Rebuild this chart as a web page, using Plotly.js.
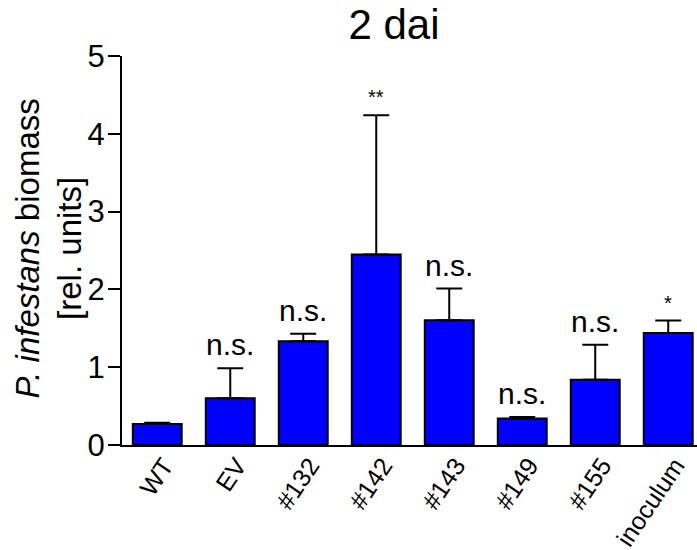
<!DOCTYPE html>
<html>
<head>
<meta charset="utf-8">
<script src="https://cdn.plot.ly/plotly-3.0.1.min.js"></script>
<style>
  html, body { margin: 0; padding: 0; background: #ffffff; }
  #chart { width: 697px; height: 550px; }
</style>
</head>
<body>
<div id="chart"></div>
<script>
// Biomass per line, 2 days after inoculation
const categories = ['WT', 'EV', '#132', '#142', '#143', '#149', '#155', 'inoculum'];
const biomass = [0.27, 0.60, 1.335, 2.45, 1.605, 0.34, 0.84, 1.44];
const errorUp = [0.015, 0.385, 0.095, 1.79, 0.405, 0.02, 0.45, 0.16];
const significance = ['', 'n.s.', 'n.s.', '**', 'n.s.', 'n.s.', 'n.s.', '*'];
const yTicks = [0, 1, 2, 3, 4, 5];
const yTitle = '<i>P. infestans</i> biomass<br>[rel. units]';

const FONT = 'Arial, "Liberation Sans", sans-serif';

const bars = {
  type: 'bar',
  x: categories,
  y: biomass,
  width: 0.67,
  marker: { color: '#0000ff', line: { color: '#000000', width: 2 } },
  error_y: {
    type: 'data',
    symmetric: false,
    array: errorUp,
    arrayminus: biomass.map(() => 0),
    color: '#000000',
    thickness: 2,
    width: 13
  },
  hoverinfo: 'skip'
};

// significance marks sit just above each error-bar cap
const annotations = significance.map((txt, i) => {
  const stars = txt.indexOf('*') === 0;
  return {
    x: categories[i],
    y: biomass[i] + errorUp[i],
    xref: 'x', yref: 'y',
    text: txt,
    showarrow: false,
    xanchor: 'center',
    yanchor: 'bottom',
    yshift: 5,
    font: { family: FONT, size: stars ? 20 : 30, color: '#000000' }
  };
}).filter(a => a.text !== '');

// two-line y-axis title, rotated, to the left of the tick labels
annotations.push({
  xref: 'paper', yref: 'paper',
  x: 0, y: 0.5,
  xanchor: 'center', yanchor: 'middle',
  xshift: -74, yshift: 2,
  textangle: -90,
  showarrow: false,
  text: yTitle,
  font: { family: FONT, size: 33, color: '#000000' }
});

const layout = {
  width: 697,
  height: 550,
  margin: { l: 122, r: 0, t: 55.6, b: 105 },
  paper_bgcolor: '#ffffff',
  plot_bgcolor: '#ffffff',
  showlegend: false,
  bargap: 0,
  font: { family: FONT, color: '#000000' },
  title: {
    text: '2 dai',
    font: { family: FONT, size: 42, color: '#000000' },
    xref: 'paper', x: 0.473, xanchor: 'center',
    yref: 'container', y: 0.955, yanchor: 'middle'
  },
  xaxis: {
    type: 'category',
    range: [-0.483, 7.394],
    showline: true, linecolor: '#000000', linewidth: 2,
    ticks: '', showgrid: false, zeroline: false,
    tickangle: -56,
    ticklabelshift: 7,
    ticklabelstandoff: -6,
    tickfont: { family: FONT, size: 25, color: '#000000' },
    automargin: false,
    fixedrange: true
  },
  yaxis: {
    range: [0, 5],
    tickvals: yTicks,
    ticktext: yTicks.map(String),
    showline: true, linecolor: '#000000', linewidth: 2,
    ticks: 'outside', ticklen: 12, tickwidth: 2, tickcolor: '#000000',
    ticklabelstandoff: -3,
    showgrid: false, zeroline: false,
    tickfont: { family: FONT, size: 31, color: '#000000' },
    automargin: false,
    fixedrange: true
  },
  annotations: annotations
};

Plotly.newPlot('chart', [bars], layout, { displayModeBar: false, staticPlot: true });
</script>
</body>
</html>
